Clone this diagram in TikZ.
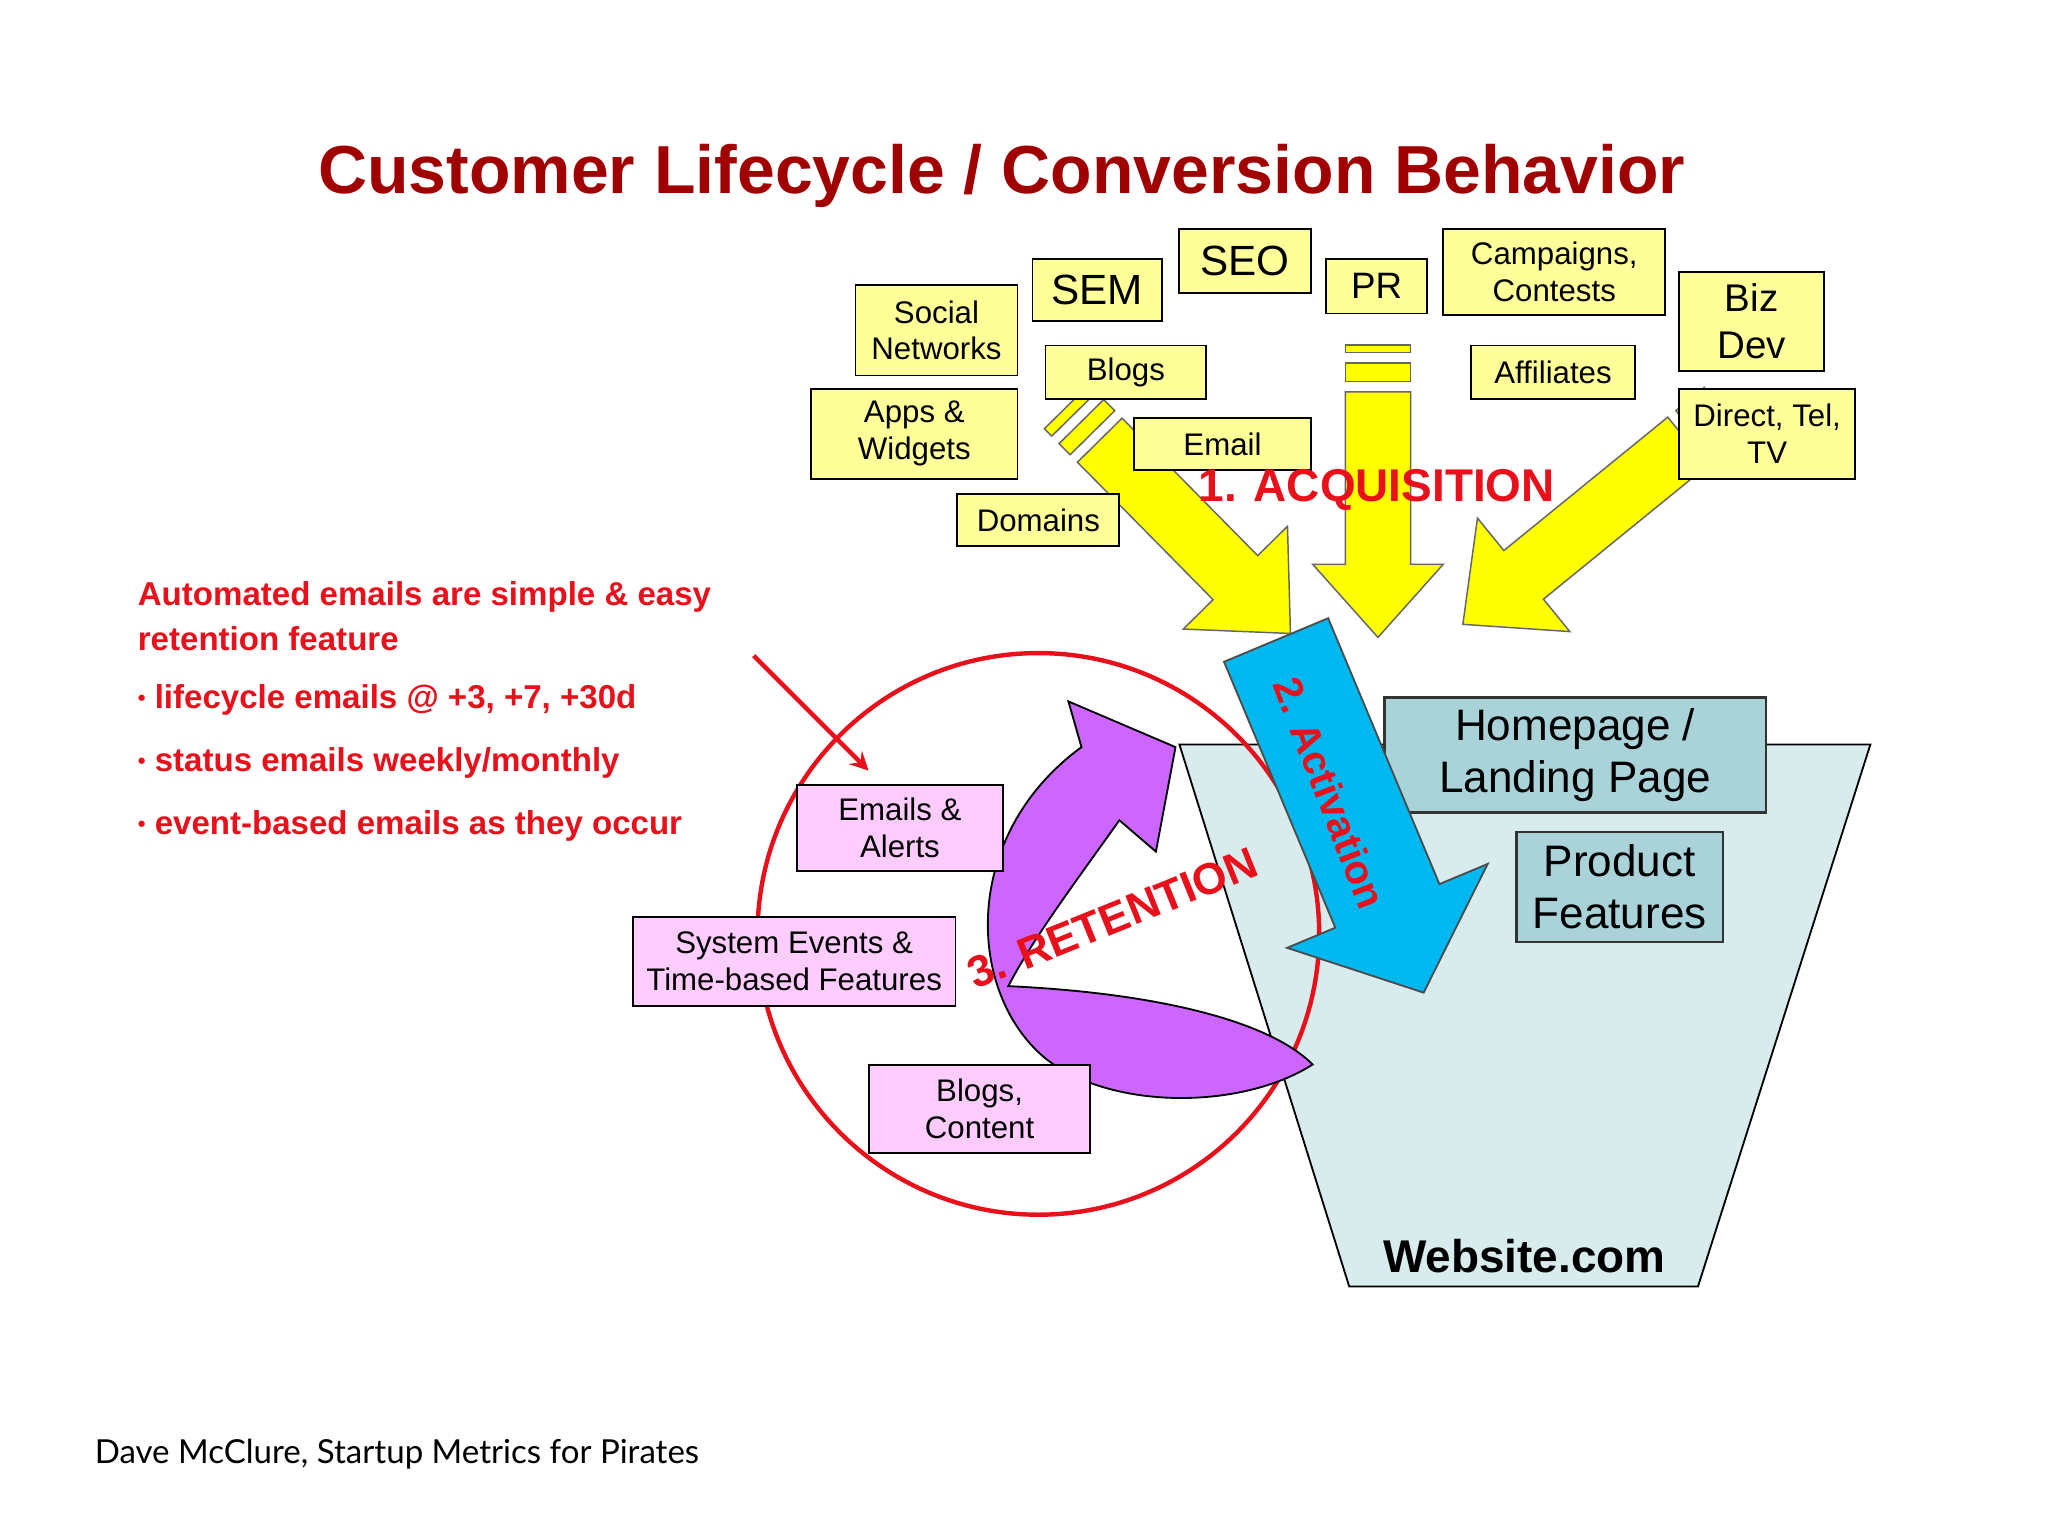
\documentclass[tikz,border=0pt]{standalone}
\usepackage{fontspec}
\setmainfont{Liberation Sans}
\newfontfamily\foot{Lato}
\usetikzlibrary{calc}
\definecolor{ttl}{HTML}{A00000}
\definecolor{rd}{HTML}{E8101A}
\definecolor{yel}{HTML}{FFFF99}
\definecolor{yarr}{HTML}{FFFF00}
\definecolor{funnel}{HTML}{D8ECEE}
\definecolor{hbox}{HTML}{A9D2D9}
\definecolor{pink}{HTML}{FFCCFF}
\definecolor{purp}{HTML}{CC66FF}
\definecolor{cyanarr}{HTML}{00B8F0}
\newcommand\fatarrow[6]{%
 \coordinate (hb) at ($(#2)!#5!(#1)$);
 \filldraw[#6] ($(#1)!#3!90:(#2)$) -- ($(hb)!#3!90:(#2)$) -- ($(hb)!#4!90:(#2)$) -- (#2)
   -- ($(hb)!#4!-90:(#2)$) -- ($(hb)!#3!-90:(#2)$) -- ($(#1)!#3!-90:(#2)$) -- cycle;}
\newcommand\stripe[5]{% tail tip halfwidth from to
 \coordinate (s1) at ($(#1)!-#4!(#2)$);
 \coordinate (s2) at ($(#1)!-#5!(#2)$);
 \filldraw[yarr,draw=black!60,line width=0.4pt] ($(s1)!#3!90:(#2)$) -- ($(s1)!#3!-90:(#2)$) -- ($(s2)!#3!-90:(#2)$) -- ($(s2)!#3!90:(#2)$) -- cycle;}
\newcommand\mybul{{\fontsize{6}{6}\selectfont\raisebox{0.25ex}{\textbullet}}}
\begin{document}
\begin{tikzpicture}[x=0.0125cm,y=-0.0125cm,
 yb/.style={draw=black,fill=yel,line width=0.5pt,align=center,font=\fontsize{8.5}{10}\selectfont,inner sep=0pt},
 pb/.style={draw=black,fill=pink,line width=0.5pt,align=center,font=\fontsize{8.5}{10}\selectfont,inner sep=0pt},
 bb/.style={draw=black!80,fill=hbox,line width=0.6pt,align=center,font=\fontsize{12}{14}\selectfont,inner sep=0pt},
 rt/.style={text=rd,font=\bfseries\fontsize{9}{11}\selectfont,anchor=west,inner sep=0pt}]
\useasboundingbox (0,0) rectangle (1568,1176);
\fill[white] (0,0) rectangle (1568,1176);
\node[text=ttl,font=\bfseries\fontsize{18.5}{22}\selectfont] (title) at (767,135) {Customer Lifecycle / Conversion Behavior};
% funnel
\filldraw[fill=funnel,draw=black,line width=0.5pt] (903,570) -- (1432,570) -- (1300,985) -- (1033,985) -- cycle;
\node[font=\bfseries\fontsize{12.5}{14}\selectfont] (web) at (1167,962) {Website.com};
% circle
\draw[rd,line width=1.2pt] (795,715) circle (215);
% homepage boxes
\node[bb,minimum width=292*0.0125cm,minimum height=88*0.0125cm] (home) at (1206,578) {Homepage /\\Landing Page};
\node[bb,minimum width=158*0.0125cm,minimum height=84*0.0125cm] (prod) at (1240,679) {Product\\Features};
% purple
\filldraw[fill=purp,draw=black,line width=0.5pt] (828,572) -- (818,537) -- (900,572) -- (885,652) -- (857,628)
 .. controls (820,680) and (790,720) .. (772,755)
 .. controls (880,760) and (970,780) .. (1005,815)
 .. controls (950,850) and (850,850) .. (800,810)
 .. controls (740,760) and (735,640) .. (828,572) -- cycle;
% blue activation arrow
\coordinate (bt) at (977,490); \coordinate (bp) at (1090,760);
\fatarrow{bt}{bp}{0.54cm}{1.04cm}{0.9cm}{fill=cyanarr,draw=black!70,line width=0.5pt}
\node[text=rd,font=\bfseries\fontsize{11}{13}\selectfont,rotate=-69] (act) at (1018,607) {2. Activation};
\node[text=rd,font=\bfseries\fontsize{12}{14}\selectfont,rotate=22] (ret) at (852,703) {3. RETENTION};
% pink boxes
\node[pb,minimum width=158*0.0125cm,minimum height=66*0.0125cm] (ea) at (689,634) {Emails \&\\Alerts};
\node[pb,minimum width=247*0.0125cm,minimum height=68*0.0125cm] (se) at (608,736) {System Events \&\\Time-based Features};
\node[pb,minimum width=169*0.0125cm,minimum height=67*0.0125cm] (bc) at (750,849) {Blogs,\\Content};
% red pointer
\coordinate (rp0) at (577,502); \coordinate (rp1) at (665,590);
\draw[rd,line width=1.2pt,-stealth] (rp0) -- (rp1);
% yellow arrows
\coordinate (mt) at (1055,300); \coordinate (mp) at (1055,488);
\fatarrow{mt}{mp}{0.3125cm}{0.625cm}{0.7cm}{fill=yarr,draw=black!60,line width=0.4pt}
\stripe{mt}{mp}{0.3125cm}{0.1cm}{0.275cm}
\stripe{mt}{mp}{0.3125cm}{0.375cm}{0.45cm}
\coordinate (lt) at (842,337); \coordinate (lp) at (988,485);
\fatarrow{lt}{lp}{0.3cm}{0.7cm}{0.75cm}{fill=yarr,draw=black!60,line width=0.4pt}
\stripe{lt}{lp}{0.3cm}{0.1cm}{0.25cm}
\stripe{lt}{lp}{0.3cm}{0.35cm}{0.45cm}
\coordinate (rt0) at (1292,338); \coordinate (rp) at (1120,478);
\fatarrow{rt0}{rp}{0.3cm}{0.7cm}{0.75cm}{fill=yarr,draw=black!60,line width=0.4pt}
\stripe{rt0}{rp}{0.3cm}{0.1cm}{0.25cm}
\stripe{rt0}{rp}{0.3cm}{0.35cm}{0.45cm}
% yellow boxes
\node[yb,minimum width=124*0.0125cm,minimum height=69*0.0125cm] (sn) at (717,253) {Social\\Networks};
\node[yb,minimum width=99*0.0125cm,minimum height=48*0.0125cm,font=\fontsize{11.5}{13}\selectfont] (sem) at (840,222) {SEM};
\node[yb,minimum width=101*0.0125cm,minimum height=49*0.0125cm,font=\fontsize{11.5}{13}\selectfont] (seo) at (953,200) {SEO};
\node[yb,minimum width=77*0.0125cm,minimum height=42*0.0125cm,font=\fontsize{10}{12}\selectfont] (pr) at (1054,219) {PR};
\node[yb,minimum width=170*0.0125cm,minimum height=66*0.0125cm] (cc) at (1190,208) {Campaigns,\\Contests};
\node[yb,minimum width=111*0.0125cm,minimum height=76*0.0125cm,font=\fontsize{10.5}{13}\selectfont] (bd) at (1341,246) {Biz\\Dev};
\node[yb,minimum width=123*0.0125cm,minimum height=41*0.0125cm] (bl) at (862,285) {Blogs};
\node[yb,minimum width=125*0.0125cm,minimum height=41*0.0125cm] (af) at (1189,285) {Affiliates};
\node[yb,minimum width=158*0.0125cm,minimum height=69*0.0125cm] (aw) at (700,332) {Apps \&\\Widgets};
\node[yb,minimum width=135*0.0125cm,minimum height=40*0.0125cm] (em) at (936,340) {Email};
\node[yb,minimum width=135*0.0125cm,minimum height=69*0.0125cm] (dt) at (1353,332) {Direct, Tel,\\TV};
\node[yb,minimum width=124*0.0125cm,minimum height=40*0.0125cm] (dm) at (795,398) {Domains};
\node[text=rd,font=\bfseries\fontsize{12.5}{15}\selectfont] (acq) at (1054,375) {1. ACQUISITION};
% left text
\node[rt] (t1) at (105,457) {Automated emails are simple \& easy};
\node[rt] (t2) at (105,489) {retention feature};
\node[rt] (t3) at (105,536) {\mybul{} lifecycle emails @ +3, +7, +30d};
\node[rt] (t4) at (105,584) {\mybul{} status emails weekly/monthly};
\node[rt] (t5) at (105,632) {\mybul{} event-based emails as they occur};
\node[anchor=west,inner sep=0pt,font=\foot\fontsize{9}{11}\selectfont] (ft) at (72,1113) {Dave McClure, Startup Metrics for Pirates};
\end{tikzpicture}
\end{document}
